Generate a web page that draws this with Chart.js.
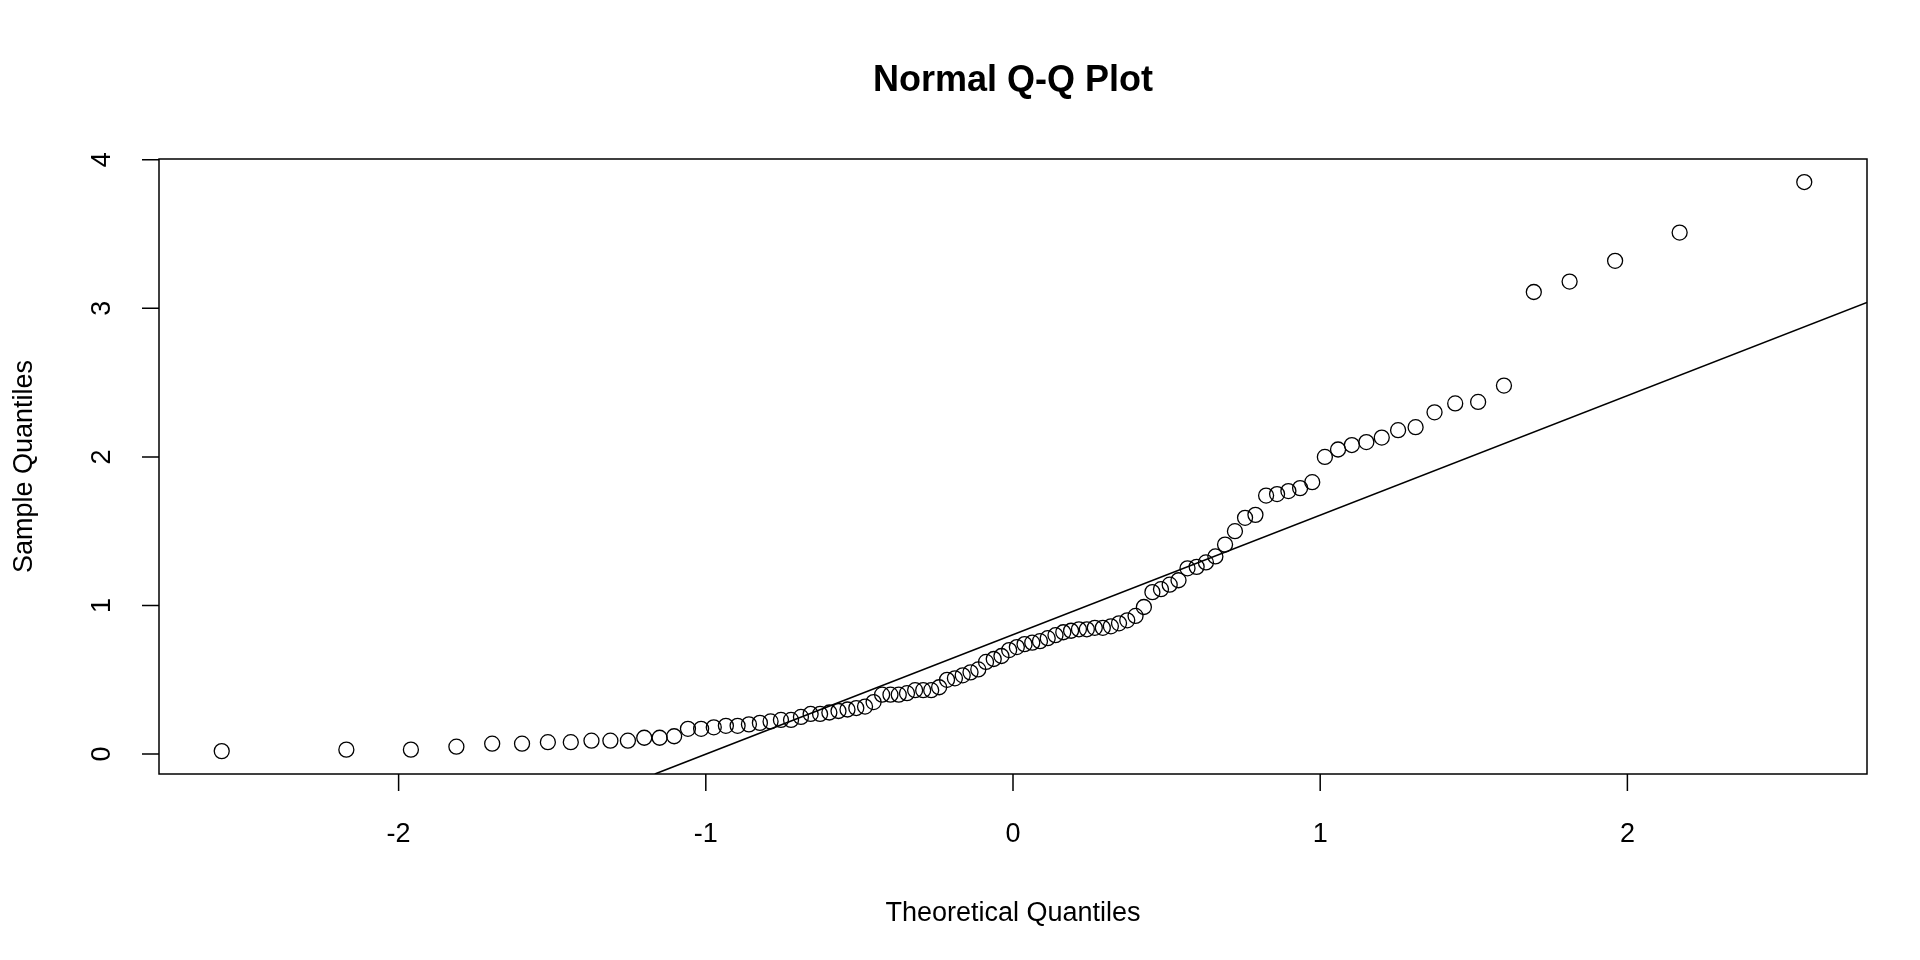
<!DOCTYPE html>
<html><head><meta charset="utf-8">
<script src="https://cdn.jsdelivr.net/npm/chart.js@4/dist/chart.umd.min.js"></script>
<style>html,body{margin:0;background:#fff}</style>
</head><body><canvas id="c" width="1920" height="960" style="width:1920px;height:960px"></canvas>
<script>
/* ===== Normal Q-Q plot ===== */
const TITLE = 'Normal Q-Q Plot', XLAB = 'Theoretical Quantiles', YLAB = 'Sample Quantiles';
const X_TICKS = [-2,-1,0,1,2], Y_TICKS = [0,1,2,3,4];
const X_RANGE = [-2.78, 2.78], Y_RANGE = [-0.134, 4.005];

// theoretical quantiles, negative half then positive half
const THEO_NEG = [-2.5758,-2.1701,-1.9600,-1.8119,-1.6954,-1.5982,-1.5141,-1.4395,-1.3722,-1.3106,
  -1.2536,-1.2004,-1.1503,-1.1031,-1.0581,-1.0152,-0.9741,-0.9346,-0.8965,-0.8596,
  -0.8239,-0.7892,-0.7554,-0.7225,-0.6903,-0.6588,-0.6280,-0.5978,-0.5681,-0.5388,
  -0.5101,-0.4817,-0.4538,-0.4261,-0.3989,-0.3719,-0.3451,-0.3186,-0.2924,-0.2663,
  -0.2404,-0.2147,-0.1891,-0.1637,-0.1383,-0.1130,-0.0878,-0.0627,-0.0376,-0.0125];
const THEO_POS = [0.0125,0.0376,0.0627,0.0878,0.1130,0.1383,0.1637,0.1891,0.2147,0.2404,
  0.2663,0.2924,0.3186,0.3451,0.3719,0.3989,0.4261,0.4538,0.4817,0.5101,
  0.5388,0.5681,0.5978,0.6280,0.6588,0.6903,0.7225,0.7554,0.7892,0.8239,
  0.8596,0.8965,0.9346,0.9741,1.0152,1.0581,1.1031,1.1503,1.2004,1.2536,
  1.3106,1.3722,1.4395,1.5141,1.5982,1.6954,1.8119,1.9600,2.1701,2.5758];
const SAMPLE = [0.02,0.03,0.03,0.05,0.07,0.07,0.08,0.08,0.09,0.09,
  0.09,0.11,0.11,0.12,0.17,0.17,0.18,0.19,0.19,0.20,
  0.21,0.22,0.23,0.23,0.25,0.27,0.27,0.28,0.29,0.30,
  0.31,0.32,0.35,0.40,0.40,0.40,0.41,0.43,0.43,0.43,
  0.45,0.50,0.51,0.53,0.55,0.57,0.62,0.64,0.66,0.70,
  0.72,0.74,0.75,0.76,0.78,0.80,0.82,0.83,0.84,0.84,
  0.85,0.85,0.86,0.88,0.90,0.93,0.99,1.09,1.11,1.14,
  1.17,1.25,1.26,1.29,1.33,1.41,1.50,1.59,1.61,1.74,
  1.75,1.77,1.79,1.83,2.00,2.05,2.08,2.10,2.13,2.18,
  2.20,2.30,2.36,2.37,2.48,3.11,3.18,3.32,3.51,3.85];
// reference line end points
const LINE_X = [-1.166, 2.78], LINE_Y = [-0.134, 3.04];

const THEO = THEO_NEG.concat(THEO_POS);
const pts = THEO.map((x,i)=>({x, y:SAMPLE[i]}));
const FONT = '"Liberation Sans", Arial, Helvetica, sans-serif';

const frame = {id:'frame', afterDraw(c){
  const {ctx, chartArea:{left,right,top,bottom}} = c, sx=c.scales.x, sy=c.scales.y;
  ctx.save();
  ctx.strokeStyle='#000'; ctx.lineWidth=1.5; ctx.fillStyle='#000';
  ctx.strokeRect(left,top,right-left,bottom-top);
  ctx.beginPath();
  X_TICKS.forEach(v=>{const p=sx.getPixelForValue(v); ctx.moveTo(p,bottom); ctx.lineTo(p,bottom+17);});
  Y_TICKS.forEach(v=>{const p=sy.getPixelForValue(v); ctx.moveTo(left,p); ctx.lineTo(left-17,p);});
  ctx.stroke();
  ctx.font='27px '+FONT; ctx.textAlign='center'; ctx.textBaseline='middle';
  X_TICKS.forEach(v=>ctx.fillText(String(v), sx.getPixelForValue(v), 835));
  Y_TICKS.forEach(v=>{ctx.save(); ctx.translate(103, sy.getPixelForValue(v)); ctx.rotate(-Math.PI/2);
    ctx.fillText(String(v),0,0); ctx.restore();});
  ctx.fillText(XLAB, (left+right)/2, 914);
  ctx.save(); ctx.translate(25,(top+bottom)/2); ctx.rotate(-Math.PI/2); ctx.fillText(YLAB,0,0); ctx.restore();
  ctx.font='bold 36px '+FONT; ctx.fillText(TITLE,(left+right)/2,81);
  ctx.restore();
}};

new Chart(document.getElementById('c'), {
  type:'scatter',
  data:{datasets:[
    {data:pts, pointStyle:'circle', pointRadius:7.5, pointBorderWidth:1.3,
     pointBorderColor:'#000', pointBackgroundColor:'rgba(0,0,0,0)', showLine:false},
    {type:'line', data:LINE_X.map((x,i)=>({x,y:LINE_Y[i]})), borderColor:'#000', borderWidth:1.6,
     pointRadius:0, fill:false}
  ]},
  options:{
    responsive:false, animation:false, devicePixelRatio:1,
    layout:{padding:{left:159,right:53,top:159,bottom:186}},
    plugins:{legend:{display:false}, tooltip:{enabled:false}},
    scales:{
      x:{type:'linear', display:false, min:X_RANGE[0], max:X_RANGE[1]},
      y:{type:'linear', display:false, min:Y_RANGE[0], max:Y_RANGE[1]}
    }
  },
  plugins:[frame]
});
</script>
</body></html>
